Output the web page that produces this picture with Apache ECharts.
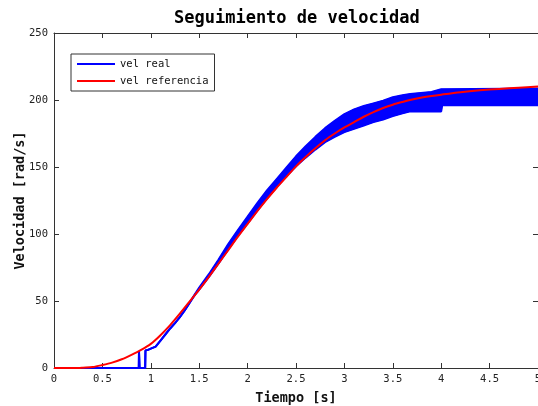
<!DOCTYPE html>
<html>
<head>
<meta charset="utf-8">
<script src="https://cdn.jsdelivr.net/npm/echarts@6/dist/echarts.min.js"></script>
<style>
  html, body { margin: 0; padding: 0; background: #fff; }
  #chart { width: 538px; height: 406px; }
</style>
</head>
<body>
<div id="chart"></div>
<script>
// referencia de velocidad (curva roja)
var tRef = [0, 0.25, 0.3, 0.4, 0.5, 0.6, 0.7, 0.8, 0.9, 1.0, 1.1, 1.2, 1.3, 1.4, 1.5, 1.6, 1.7, 1.8, 1.9,
  2.0, 2.1, 2.2, 2.3, 2.4, 2.5, 2.6, 2.7, 2.8, 2.9, 3.0, 3.1, 3.2, 3.3, 3.4, 3.5, 3.6, 3.7, 3.8, 3.9,
  4.0, 4.2, 4.4, 4.6, 4.8, 5.0]
var velRef = [0, 0, 0.2, 0.7, 2.2, 4, 6.5, 9.8, 13.5, 18, 24.5, 32, 40.5, 49.5, 58.5, 68, 78, 88, 98,
  107.5, 117, 126, 134.5, 142.5, 150.5, 157.5, 164, 170, 175, 179.5, 183.5, 187.5, 191, 194, 196.5, 198.5, 200.3, 201.8, 203,
  204, 205.8, 207.2, 208.3, 209.2, 210]

// velocidad real (azul): borde inferior y superior de la banda de ruido
var tReal = [0, 0.876, 0.878, 0.884, 0.942, 0.945, 0.97, 1.0, 1.05, 1.1, 1.15, 1.2, 1.25, 1.3, 1.35, 1.4, 1.45,
  1.5, 1.6, 1.7, 1.8, 1.9, 2.0, 2.1, 2.2, 2.3, 2.4, 2.5, 2.6, 2.7, 2.8, 2.9, 3.0, 3.1, 3.2, 3.3, 3.4, 3.5, 3.6,
  3.68, 3.9, 4.0, 4.01, 5.0]
var realLow = [0, 0, 12.5, 0, 0, 13, 13.5, 14.5, 16, 20.5, 25, 29.5, 33.5, 38, 43, 48.5, 54,
  58.5, 68, 78, 88.5, 98.5, 108, 117.5, 126.5, 135, 143, 150.5, 157, 163, 168.5, 172.5, 176, 178.5, 181, 183.5, 185.5, 188, 190,
  191.5, 191.5, 191.5, 196, 196]
var realHigh = [0, 0, 12.5, 0, 0, 13, 13.5, 14.5, 16, 20.5, 25, 29.5, 33.5, 38, 43, 48.5, 54.5,
  60, 70, 81, 92.5, 103, 113, 123, 132.5, 141, 149.5, 158, 165.5, 172.5, 179, 184.5, 189.5, 193, 195.5, 197.5, 199.5, 202, 203.5,
  204.5, 206, 208, 208, 208.5]

var xTicks = { min: 0, max: 5, interval: 0.5 }
var yTicks = { min: 0, max: 250, interval: 50 }

var mono = 'DejaVu Sans Mono'
var axisColor = '#333'

var lowData = tReal.map(function (t, i) { return [t, realLow[i]] })
var highData = tReal.map(function (t, i) { return [t, realHigh[i]] })
var refData = tRef.map(function (t, i) { return [t, velRef[i]] })

var chart = echarts.init(document.getElementById('chart'))

function baseX (pos, show) {
  return {
    type: 'value',
    position: pos,
    min: xTicks.min,
    max: xTicks.max,
    interval: xTicks.interval,
    axisLine: { show: true, onZero: false, lineStyle: { color: axisColor, width: 1 } },
    axisTick: { show: true, inside: true, length: 5, lineStyle: { color: axisColor } },
    axisLabel: { show: show, margin: 6, color: '#222', fontFamily: mono, fontSize: 10.5 },
    splitLine: { show: false }
  }
}

function baseY (pos, show) {
  return {
    type: 'value',
    position: pos,
    min: yTicks.min,
    max: yTicks.max,
    interval: yTicks.interval,
    axisLine: { show: true, onZero: false, lineStyle: { color: axisColor, width: 1 } },
    axisTick: { show: true, inside: true, length: 5, lineStyle: { color: axisColor } },
    axisLabel: { show: show, margin: 6, color: '#222', fontFamily: mono, fontSize: 10.5 },
    splitLine: { show: false }
  }
}

var xBottom = baseX('bottom', true)
xBottom.name = 'Tiempo [s]'
xBottom.nameLocation = 'middle'
xBottom.nameGap = 23
xBottom.nameTextStyle = { fontFamily: mono, fontWeight: 'bold', fontSize: 13.5, color: '#111', verticalAlign: 'top' }

var yLeft = baseY('left', true)
yLeft.name = 'Velocidad [rad/s]'
yLeft.nameLocation = 'middle'
yLeft.nameGap = 27
yLeft.nameMoveOverlap = false
yLeft.nameTextStyle = { fontFamily: mono, fontWeight: 'bold', fontSize: 13.5, color: '#111' }

// banda azul: poligono entre borde inferior y superior
function renderBand (params, api) {
  var pts = []
  for (var i = 0; i < tReal.length; i++) pts.push(api.coord([tReal[i], realHigh[i]]))
  for (var j = tReal.length - 1; j >= 0; j--) pts.push(api.coord([tReal[j], realLow[j]]))
  return {
    type: 'polygon',
    shape: { points: pts },
    style: { fill: '#0000ff', stroke: '#0000ff', lineWidth: 1 }
  }
}

chart.setOption({
  animation: false,
  backgroundColor: '#fff',
  title: {
    text: 'Seguimiento de velocidad',
    left: 174,
    top: 10,
    padding: 0,
    textStyle: { fontFamily: mono, fontWeight: 'bold', fontSize: 17, color: '#000' }
  },
  legend: {
    orient: 'vertical',
    left: 71,
    top: 54,
    padding: [4, 6, 4, 6],
    itemGap: 5,
    itemWidth: 38,
    itemHeight: 2,
    icon: 'rect',
    backgroundColor: '#fff',
    borderColor: axisColor,
    borderWidth: 1,
    borderRadius: 0,
    data: ['vel real', 'vel referencia'],
    textStyle: { fontFamily: mono, fontSize: 10.5, color: '#111', lineHeight: 12 }
  },
  grid: { left: 54, top: 33, width: 484, height: 335, containLabel: false, outerBoundsMode: 'none' },
  xAxis: [xBottom, baseX('top', false)],
  yAxis: [yLeft, baseY('right', false)],
  series: [
    {
      name: 'banda',
      type: 'custom',
      renderItem: renderBand,
      data: [[0, 0]],
      clip: true,
      z: 2
    },
    {
      name: 'vel real',
      type: 'line',
      data: lowData,
      showSymbol: false,
      lineStyle: { color: '#0000ff', width: 2 },
      itemStyle: { color: '#0000ff' },
      z: 3
    },
    {
      name: 'vel real',
      type: 'line',
      data: highData,
      showSymbol: false,
      lineStyle: { color: '#0000ff', width: 2 },
      itemStyle: { color: '#0000ff' },
      z: 3
    },
    {
      name: 'vel referencia',
      type: 'line',
      data: refData,
      smooth: 0.3,
      showSymbol: false,
      lineStyle: { color: '#ff0000', width: 2 },
      itemStyle: { color: '#ff0000' },
      z: 4
    }
  ]
})
</script>
</body>
</html>
